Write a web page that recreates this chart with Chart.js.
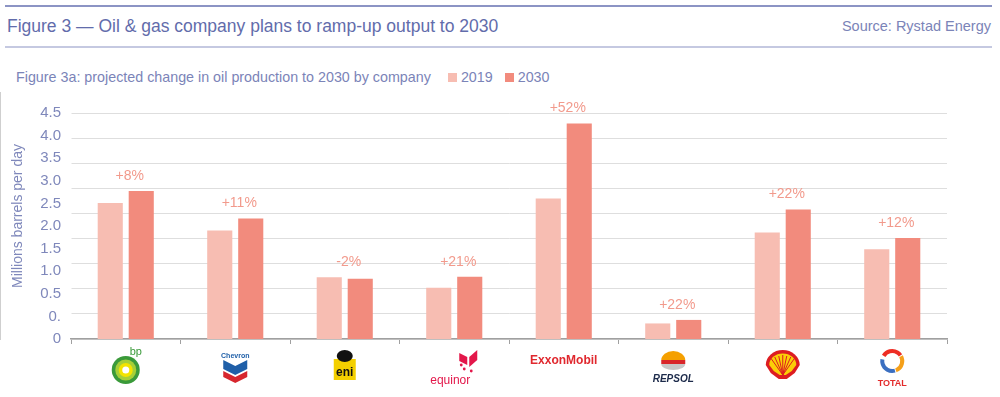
<!DOCTYPE html>
<html>
<head>
<meta charset="utf-8">
<script src="https://cdn.jsdelivr.net/npm/chart.js@4/dist/chart.umd.min.js"></script>
<style>
  html, body { margin: 0; padding: 0; background: #fff; }
  body { width: 1000px; height: 397px; position: relative; overflow: hidden; font-family: "Liberation Sans", Arial, sans-serif; }
  #chart { position: absolute; left: 0; top: 0; }
  .rule { position: absolute; left: 5px; width: 987px; }
  #ruleTop { top: 5px; height: 1.5px; background: #8c94c4; }
  #ruleBottom { top: 46px; height: 2px; background: #c5c9e1; }
  #title { position: absolute; left: 7px; top: 16px; font-size: 17.5px; color: #626cab; white-space: nowrap; }
  #source { position: absolute; right: 9px; top: 18px; font-size: 14.5px; color: #7b84b8; white-space: nowrap; }
  #subtitle { position: absolute; left: 16px; top: 69px; font-size: 14.3px; color: #7b84b8; white-space: nowrap; display: flex; align-items: center; }
  #legend { display: inline-flex; align-items: center; margin-left: 17px; }
  #legend span.box { display: inline-block; width: 9px; height: 9px; margin-right: 4px; }
  #legend span.item { margin-right: 12px; }
</style>
</head>
<body>
<div class="rule" id="ruleTop"></div>
<div id="title">Figure 3 — Oil &amp; gas company plans to ramp-up output to 2030</div>
<div id="source">Source: Rystad Energy</div>
<div class="rule" id="ruleBottom"></div>
<div id="subtitle">Figure 3a: projected change in oil production to 2030 by company<span id="legend"></span></div>
<canvas id="chart" width="1000" height="397"></canvas>
<script>
// millions of barrels per day
const COMPANIES = ['bp', 'Chevron', 'eni', 'equinor', 'ExxonMobil', 'Repsol', 'Shell', 'Total'];
const PROD_2019 = [2.71, 2.16, 1.23, 1.02, 2.80, 0.31, 2.12, 1.79];
const PROD_2030 = [2.95, 2.40, 1.20, 1.24, 4.29, 0.38, 2.58, 2.01];
const PCT_LABELS = ['+8%', '+11%', '-2%', '+21%', '+52%', '+22%', '+22%', '+12%'];
const SERIES_NAMES = ['2019', '2030'];
const SERIES_COLORS = ['#f7bdb2', '#f28b7d'];

// the original tick labels do not line up with its gridlines, kept as drawn
const Y_TICK_LABELS = ['0', '0.', '0.5', '1.0', '1.5', '2.0', '2.5', '3.0', '3.5', '4.0', '4.5'];
const Y_TICK_TOP = 4.5;
const GRID_VALUES = [0, 0.5, 1.0, 1.5, 2.0, 2.5, 3.0, 3.5, 4.0, 4.5];
const Y_MAX = 4.9;

const FONT = '"Liberation Sans", Arial, sans-serif';
const AXIS_GREY = '#a0a0a0';

// html legend next to the subtitle
const legendEl = document.getElementById('legend');
SERIES_NAMES.forEach(function (name, i) {
    const item = document.createElement('span');
    item.className = 'item';
    item.innerHTML = '<span class="box" style="background:' + SERIES_COLORS[i] + '"></span>' + name;
    legendEl.appendChild(item);
});

const pctLabels = {
    id: 'pctLabels',
    afterDatasetsDraw(chart) {
        const { ctx, scales: { x, y } } = chart;
        ctx.save();
        ctx.font = '14px ' + FONT;
        ctx.fillStyle = '#f29a8c';
        ctx.textAlign = 'center';
        ctx.textBaseline = 'middle';
        PCT_LABELS.forEach(function (txt, i) {
            const top = Math.max(PROD_2019[i], PROD_2030[i]);
            ctx.fillText(txt, x.getPixelForValue(i) + 4, y.getPixelForValue(top) - 15);
        });
        ctx.restore();
    },
};

// rough stand-ins for the company logos under the axis
function drawLogo(ctx, name, cx, top) {
    ctx.save();
    ctx.textAlign = 'center';
    ctx.textBaseline = 'middle';
    if (name === 'bp') {
        const cy = top + 24;
        [['#3a9a3a', 14], ['#a6cf38', 10.5], ['#f3e300', 7], ['#ffffff', 3.5]].forEach(function (c) {
            ctx.fillStyle = c[0];
            ctx.beginPath(); ctx.arc(cx, cy, c[1], 0, Math.PI * 2); ctx.fill();
        });
        ctx.fillStyle = '#3a9a3a';
        ctx.font = '11px ' + FONT;
        ctx.fillText('bp', cx + 10, top + 6);
    } else if (name === 'Chevron') {
        ctx.fillStyle = '#1f5fa8';
        ctx.font = 'bold 7px ' + FONT;
        ctx.fillText('Chevron', cx, top + 10);
        ctx.beginPath();
        ctx.moveTo(cx - 12, top + 14); ctx.lineTo(cx, top + 20); ctx.lineTo(cx + 12, top + 14);
        ctx.lineTo(cx + 12, top + 23); ctx.lineTo(cx, top + 29); ctx.lineTo(cx - 12, top + 23);
        ctx.closePath(); ctx.fill();
        ctx.fillStyle = '#d7262e';
        ctx.beginPath();
        ctx.moveTo(cx - 12, top + 25); ctx.lineTo(cx, top + 31); ctx.lineTo(cx + 12, top + 25);
        ctx.lineTo(cx + 12, top + 31); ctx.lineTo(cx, top + 37); ctx.lineTo(cx - 12, top + 31);
        ctx.closePath(); ctx.fill();
    } else if (name === 'eni') {
        ctx.fillStyle = '#f4d000';
        ctx.fillRect(cx - 11, top + 13, 22, 21);
        ctx.fillStyle = '#111';
        ctx.beginPath(); ctx.ellipse(cx, top + 10, 8, 6, 0, 0, Math.PI * 2); ctx.fill();
        ctx.font = 'bold 12px ' + FONT;
        ctx.fillText('eni', cx, top + 27);
    } else if (name === 'equinor') {
        ctx.fillStyle = '#e3174a';
        const sx = cx + 14, sy = top + 4;
        ctx.beginPath(); ctx.moveTo(sx - 9, sy + 3); ctx.lineTo(sx - 1, sy + 7); ctx.lineTo(sx - 1, sy + 15); ctx.lineTo(sx - 9, sy + 11); ctx.closePath(); ctx.fill();
        ctx.beginPath(); ctx.moveTo(sx + 1, sy + 7); ctx.lineTo(sx + 9, sy); ctx.lineTo(sx + 9, sy + 10); ctx.lineTo(sx + 1, sy + 17); ctx.closePath(); ctx.fill();
        [[-4, 19], [3, 21], [-7, 15]].forEach(function (d) {
            ctx.beginPath(); ctx.arc(sx + d[0], sy + d[1], 1.4, 0, Math.PI * 2); ctx.fill();
        });
        ctx.font = '12px ' + FONT;
        ctx.fillText('equinor', cx - 4, top + 35);
    } else if (name === 'ExxonMobil') {
        ctx.fillStyle = '#e0282e';
        ctx.font = 'bold 12px ' + FONT;
        ctx.fillText('ExxonMobil', cx, top + 15);
    } else if (name === 'Repsol') {
        const cy = top + 14;
        ctx.fillStyle = '#f5a000';
        ctx.beginPath(); ctx.ellipse(cx, cy, 12, 9, 0, Math.PI, Math.PI * 2); ctx.fill();
        ctx.fillStyle = '#d9262a';
        ctx.fillRect(cx - 12, cy, 24, 4);
        ctx.fillStyle = '#c8c8c8';
        ctx.beginPath(); ctx.ellipse(cx, cy + 4, 12, 6, 0, 0, Math.PI); ctx.fill();
        ctx.fillStyle = '#1c2a4a';
        ctx.font = 'italic bold 10px ' + FONT;
        ctx.fillText('REPSOL', cx, top + 33);
    } else if (name === 'Shell') {
        const cy = top + 19;
        ctx.fillStyle = '#dd1d21';
        ctx.beginPath(); ctx.ellipse(cx, cy, 17, 15, 0, Math.PI, Math.PI * 2);
        ctx.lineTo(cx + 12, cy + 8); ctx.lineTo(cx + 4, cy + 14); ctx.lineTo(cx - 4, cy + 14); ctx.lineTo(cx - 12, cy + 8);
        ctx.closePath(); ctx.fill();
        ctx.fillStyle = '#fbce07';
        ctx.beginPath(); ctx.ellipse(cx, cy, 13.5, 11.5, 0, Math.PI, Math.PI * 2);
        ctx.lineTo(cx + 9, cy + 6); ctx.lineTo(cx + 3, cy + 10); ctx.lineTo(cx - 3, cy + 10); ctx.lineTo(cx - 9, cy + 6);
        ctx.closePath(); ctx.fill();
        ctx.strokeStyle = '#dd1d21';
        ctx.lineWidth = 1;
        for (let k = -3; k <= 3; k++) {
            ctx.beginPath(); ctx.moveTo(cx, cy + 10); ctx.lineTo(cx + k * 4, cy - 10 + Math.abs(k)); ctx.stroke();
        }
    } else if (name === 'Total') {
        const cy = top + 15;
        ctx.lineWidth = 4;
        [['#ee2d24', -2.6, -0.6], ['#f5a01a', -0.5, 1.2], ['#3b6fc1', 1.3, 3.3]].forEach(function (a) {
            ctx.strokeStyle = a[0];
            ctx.beginPath(); ctx.arc(cx, cy, 10, a[1], a[2]); ctx.stroke();
        });
        ctx.fillStyle = '#e32b2b';
        ctx.font = 'bold 9px ' + FONT;
        ctx.fillText('TOTAL', cx, top + 38);
    }
    ctx.restore();
}

const logos = {
    id: 'logos',
    afterDraw(chart) {
        const x = chart.scales.x;
        COMPANIES.forEach(function (name, i) {
            drawLogo(chart.ctx, name, x.getPixelForValue(i), chart.chartArea.bottom + 7);
        });
    },
};

new Chart(document.getElementById('chart'), {
    type: 'bar',
    data: {
        labels: COMPANIES,
        datasets: [PROD_2019, PROD_2030].map(function (vals, i) {
            return {
                label: SERIES_NAMES[i],
                data: vals,
                backgroundColor: SERIES_COLORS[i],
                borderWidth: 0,
                barPercentage: 0.81,
                categoryPercentage: 0.566,
                yAxisID: 'y',
            };
        }),
    },
    options: {
        responsive: false,
        animation: false,
        layout: { padding: { top: 93, right: 53, left: 0, bottom: 0 } },
        plugins: { legend: { display: false }, tooltip: { enabled: false } },
        scales: {
            x: {
                grid: { display: true, drawOnChartArea: false, drawTicks: true, tickLength: 5, color: AXIS_GREY, lineWidth: 1 },
                border: { display: true, color: AXIS_GREY, width: 1.5 },
                ticks: { display: false },
                afterFit: function (scale) { scale.height = 58; },
            },
            yGrid: {
                type: 'linear',
                position: 'left',
                min: 0,
                max: Y_MAX,
                weight: 1,
                grid: { color: '#dedede', lineWidth: 1, drawTicks: true, tickLength: 5 },
                border: { display: true, color: AXIS_GREY, width: 1.5 },
                ticks: { display: false },
                afterBuildTicks: function (scale) { scale.ticks = GRID_VALUES.map(function (v) { return { value: v }; }); },
                afterFit: function (scale) { scale.width = 0; },
            },
            y: {
                type: 'linear',
                position: 'left',
                min: 0,
                max: Y_MAX,
                weight: 0,
                grid: { display: false, drawTicks: false },
                border: { display: false },
                ticks: {
                    padding: 10,
                    color: '#7f88bb',
                    font: { family: FONT, size: 15 },
                    callback: function (v, i) { return Y_TICK_LABELS[i]; },
                },
                afterBuildTicks: function (scale) {
                    const step = Y_TICK_TOP / (Y_TICK_LABELS.length - 1);
                    scale.ticks = Y_TICK_LABELS.map(function (t, i) { return { value: i * step }; });
                },
                title: {
                    display: true,
                    text: 'Millions barrels per day',
                    color: '#7f88bb',
                    font: { family: FONT, size: 14 },
                    padding: { top: 10, bottom: 0 },
                },
                afterFit: function (scale) { scale.width = 71; },
            },
        },
    },
    plugins: [pctLabels, logos],
});
</script>
</body>
</html>
